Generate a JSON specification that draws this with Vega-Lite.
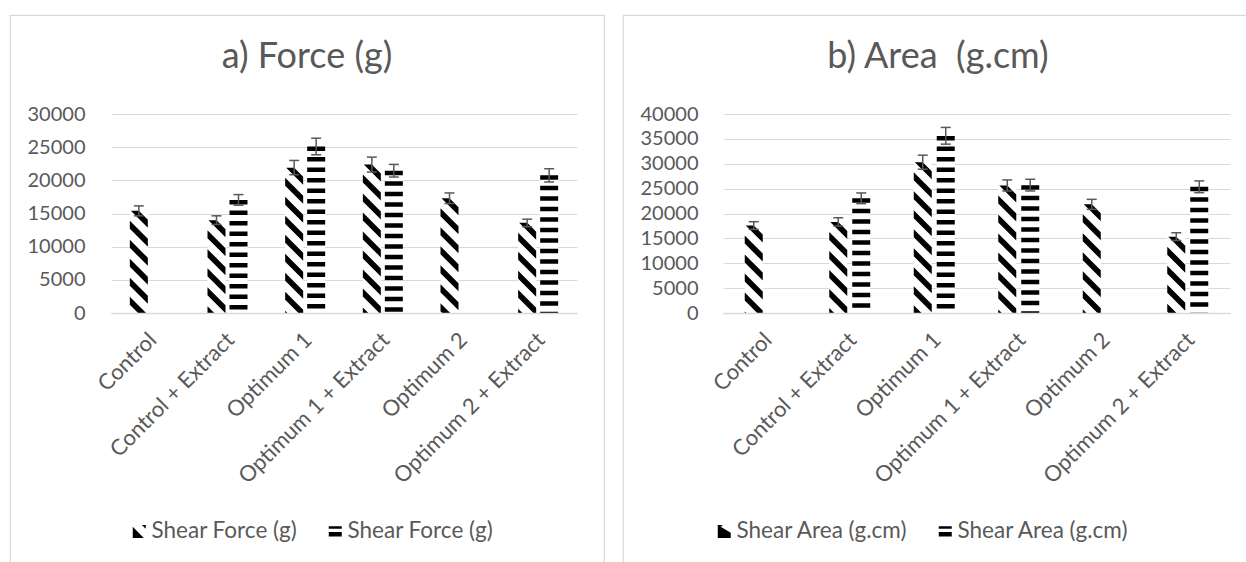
{
  "$schema": "https://vega.github.io/schema/vega-lite/v6.json",
  "padding": {"left": 9, "top": 14, "right": 0, "bottom": 0},
  "spacing": 17,
  "resolve": {"scale": {"shape": "independent", "x": "independent", "y": "independent", "xOffset": "independent"}, "legend": {"shape": "independent"}},
  "datasets": {
    "force": [
      {"cat": "Control", "s": "s1", "v": 15400, "lo": 14650, "hi": 16150},
      {"cat": "Control + Extract", "s": "s1", "v": 14000, "lo": 13350, "hi": 14650},
      {"cat": "Control + Extract", "s": "s2", "v": 17050, "lo": 16250, "hi": 17850},
      {"cat": "Optimum 1", "s": "s1", "v": 21900, "lo": 20850, "hi": 23000},
      {"cat": "Optimum 1", "s": "s2", "v": 25100, "lo": 23850, "hi": 26350},
      {"cat": "Optimum 1 + Extract", "s": "s1", "v": 22400, "lo": 21250, "hi": 23500},
      {"cat": "Optimum 1 + Extract", "s": "s2", "v": 21450, "lo": 20500, "hi": 22400},
      {"cat": "Optimum 2", "s": "s1", "v": 17300, "lo": 16500, "hi": 18100},
      {"cat": "Optimum 2 + Extract", "s": "s1", "v": 13600, "lo": 13000, "hi": 14150},
      {"cat": "Optimum 2 + Extract", "s": "s2", "v": 20750, "lo": 19750, "hi": 21750}
    ],
    "area": [
      {"cat": "Control", "s": "s1", "v": 17570, "lo": 16800, "hi": 18350},
      {"cat": "Control + Extract", "s": "s1", "v": 18300, "lo": 17470, "hi": 19150},
      {"cat": "Control + Extract", "s": "s2", "v": 23050, "lo": 21980, "hi": 24130},
      {"cat": "Optimum 1", "s": "s1", "v": 30300, "lo": 28900, "hi": 31720},
      {"cat": "Optimum 1", "s": "s2", "v": 35600, "lo": 33940, "hi": 37300},
      {"cat": "Optimum 1 + Extract", "s": "s1", "v": 25640, "lo": 24530, "hi": 26750},
      {"cat": "Optimum 1 + Extract", "s": "s2", "v": 25700, "lo": 24530, "hi": 26880},
      {"cat": "Optimum 2", "s": "s1", "v": 21840, "lo": 20830, "hi": 22850},
      {"cat": "Optimum 2 + Extract", "s": "s1", "v": 15350, "lo": 14580, "hi": 16130},
      {"cat": "Optimum 2 + Extract", "s": "s2", "v": 25370, "lo": 24190, "hi": 26550}
    ]
  },
  "hconcat": [
    {
      "width": 594,
      "height": 560,
      "data": {"name": "force"},
      "title": {"text": "a) Force (g)", "offset": -61, "frame": "group", "anchor": "middle", "fontSize": 36, "font": "Lato", "fontWeight": "normal", "color": "#595959"},
      "encoding": {
        "x": {
          "field": "cat", "type": "nominal", "title": null,
          "scale": {"domain": ["Control", "Control + Extract", "Optimum 1", "Optimum 1 + Extract", "Optimum 2", "Optimum 2 + Extract"], "range": [101, 567], "paddingInner": 0.485, "paddingOuter": 0.2425},
          "axis": {"orient": "bottom", "offset": -262, "labelAngle": -45, "labelAlign": "right", "labelBaseline": "top", "labelPadding": 16, "labelOffset": -4, "ticks": false, "domain": true, "domainColor": "#d9d9d9", "domainWidth": 1.3, "grid": false, "labelFont": "Lato", "labelFontSize": 22, "labelColor": "#595959", "labelOverlap": false, "labelLimit": 400, "zindex": 1}
        },
        "xOffset": {"field": "s", "type": "nominal", "scale": {"domain": ["s1", "s2"], "paddingInner": 0.1818, "paddingOuter": 0}}
      },
      "layer": [
        {
          "mark": {"type": "bar", "fill": "white", "width": 18},
          "encoding": {
            "y": {"field": "v", "type": "quantitative", "title": null,
              "scale": {"domain": [0, 30000], "range": [298, 99], "nice": false, "zero": false},
              "axis": {"values": [0, 5000, 10000, 15000, 20000, 25000, 30000], "format": "d", "offset": -101, "grid": true, "gridColor": "#d9d9d9", "gridWidth": 1.2, "domain": false, "ticks": false, "tickSize": 0, "labelPadding": 26, "labelFont": "Lato", "labelFontSize": 20, "labelColor": "#595959", "labelOverlap": false, "zindex": 0}}
          }
        },
        {
          "transform": [{"filter": "datum.s === 's1'"}],
          "mark": {"type": "point", "shape": "M-8,0L0,0L9,9L9,17ZM-9,10L9,28L9,36L-9,18ZM-9,29L9,47L9,55L-9,37ZM-9,48L9,66L9,74L-9,56ZM-9,67L9,85L9,93L-9,75ZM-9,86L9,104L9,112L-9,94ZM-9,105L9,123L9,131L-9,113ZM-9,124L9,142L9,150L-9,132ZM-9,143L9,161L9,169L-9,151ZM-9,162L9,180L9,188L-9,170Z", "size": 4, "filled": true, "fill": "black", "opacity": 1, "strokeWidth": 0},
          "encoding": {"y": {"field": "v", "type": "quantitative", "title": null}}
        },
        {
          "transform": [{"filter": "datum.s === 's1'"}],
          "mark": {"type": "bar", "fill": "white", "width": 20},
          "encoding": {"y": {"datum": -20000, "type": "quantitative", "title": null}}
        },
        {
          "transform": [{"filter": "datum.s === 's2'"}],
          "mark": {"type": "rule", "stroke": "black", "strokeWidth": 18, "strokeDash": [4.5, 6], "strokeCap": "butt"},
          "encoding": {"y": {"field": "v", "type": "quantitative", "title": null}, "y2": {"datum": 0}}
        },
        {
          "mark": {"type": "rule", "stroke": "#595959", "strokeWidth": 1.5},
          "encoding": {"y": {"field": "lo", "type": "quantitative", "title": null}, "y2": {"field": "hi"}}
        },
        {
          "mark": {"type": "tick", "color": "#595959", "thickness": 1.5, "size": 10, "opacity": 1},
          "encoding": {"y": {"field": "lo", "type": "quantitative", "title": null}}
        },
        {
          "mark": {"type": "tick", "color": "#595959", "thickness": 1.5, "size": 10, "opacity": 1},
          "encoding": {"y": {"field": "hi", "type": "quantitative", "title": null}}
        },
        {
          "mark": {"type": "point", "filled": true, "color": "black", "opacity": 0},
          "encoding": {
            "y": {"field": "v", "type": "quantitative", "title": null},
            "shape": {"field": "s", "type": "nominal",
              "scale": {"domain": ["s1", "s2"], "range": ["M-1,-0.7L0.7,1L-1,1ZM0.4,-1L1,-1L1,-0.4Z", "M-1,-0.8H1V-0.4H-1ZM-1,0.1H1V0.8H-1Z"]},
              "legend": {"orient": "none", "legendX": 118, "legendY": 505, "direction": "horizontal", "title": null, "padding": 0, "symbolSize": 169, "symbolFillColor": "black", "symbolStrokeWidth": 0, "symbolOpacity": 1, "labelFont": "Lato", "labelFontSize": 22.5, "labelColor": "#595959", "labelOffset": 1, "labelLimit": 400, "columnPadding": 26, "labelExpr": "'Shear Force (g)'"}}
          }
        }
      ]
    },
    {
      "width": 630,
      "height": 560,
      "data": {"name": "area"},
      "title": {"text": "b) Area \u00a0(g.cm)", "offset": -61, "frame": "group", "anchor": "middle", "fontSize": 36, "font": "Lato", "fontWeight": "normal", "color": "#595959"},
      "encoding": {
        "x": {
          "field": "cat", "type": "nominal", "title": null,
          "scale": {"domain": ["Control", "Control + Extract", "Optimum 1", "Optimum 1 + Extract", "Optimum 2", "Optimum 2 + Extract"], "range": [100, 607], "paddingInner": 0.515, "paddingOuter": 0.2574},
          "axis": {"orient": "bottom", "offset": -262, "labelAngle": -45, "labelAlign": "right", "labelBaseline": "top", "labelPadding": 16, "labelOffset": -4, "ticks": false, "domain": true, "domainColor": "#d9d9d9", "domainWidth": 1.3, "grid": false, "labelFont": "Lato", "labelFontSize": 22, "labelColor": "#595959", "labelOverlap": false, "labelLimit": 400, "zindex": 1}
        },
        "xOffset": {"field": "s", "type": "nominal", "scale": {"domain": ["s1", "s2"], "paddingInner": 0.2174, "paddingOuter": 0}}
      },
      "layer": [
        {
          "mark": {"type": "bar", "fill": "white", "width": 18},
          "encoding": {
            "y": {"field": "v", "type": "quantitative", "title": null,
              "scale": {"domain": [0, 40000], "range": [298, 99], "nice": false, "zero": false},
              "axis": {"values": [0, 5000, 10000, 15000, 20000, 25000, 30000, 35000, 40000], "format": "d", "offset": -100, "grid": true, "gridColor": "#d9d9d9", "gridWidth": 1.2, "domain": false, "ticks": false, "tickSize": 0, "labelPadding": 25, "labelFont": "Lato", "labelFontSize": 20, "labelColor": "#595959", "labelOverlap": false, "zindex": 0}}
          }
        },
        {
          "transform": [{"filter": "datum.s === 's1'"}],
          "mark": {"type": "point", "shape": "M-8,0L0,0L9,9L9,17ZM-9,10L9,28L9,36L-9,18ZM-9,29L9,47L9,55L-9,37ZM-9,48L9,66L9,74L-9,56ZM-9,67L9,85L9,93L-9,75ZM-9,86L9,104L9,112L-9,94ZM-9,105L9,123L9,131L-9,113ZM-9,124L9,142L9,150L-9,132ZM-9,143L9,161L9,169L-9,151ZM-9,162L9,180L9,188L-9,170Z", "size": 4, "filled": true, "fill": "black", "opacity": 1, "strokeWidth": 0},
          "encoding": {"y": {"field": "v", "type": "quantitative", "title": null}}
        },
        {
          "transform": [{"filter": "datum.s === 's1'"}],
          "mark": {"type": "bar", "fill": "white", "width": 20},
          "encoding": {"y": {"datum": -30000, "type": "quantitative", "title": null}}
        },
        {
          "transform": [{"filter": "datum.s === 's2'"}],
          "mark": {"type": "rule", "stroke": "black", "strokeWidth": 18, "strokeDash": [4.5, 6], "strokeCap": "butt"},
          "encoding": {"y": {"field": "v", "type": "quantitative", "title": null}, "y2": {"datum": 0}}
        },
        {
          "mark": {"type": "rule", "stroke": "#595959", "strokeWidth": 1.5},
          "encoding": {"y": {"field": "lo", "type": "quantitative", "title": null}, "y2": {"field": "hi"}}
        },
        {
          "mark": {"type": "tick", "color": "#595959", "thickness": 1.5, "size": 10, "opacity": 1},
          "encoding": {"y": {"field": "lo", "type": "quantitative", "title": null}}
        },
        {
          "mark": {"type": "tick", "color": "#595959", "thickness": 1.5, "size": 10, "opacity": 1},
          "encoding": {"y": {"field": "hi", "type": "quantitative", "title": null}}
        },
        {
          "mark": {"type": "point", "filled": true, "color": "black", "opacity": 0},
          "encoding": {
            "y": {"field": "v", "type": "quantitative", "title": null},
            "shape": {"field": "s", "type": "nominal",
              "scale": {"domain": ["s1", "s2"], "range": ["M-1,-1L1,0.2L1,1L-1,1ZM-1,-1L-0.2,-1L-1,-0.3Z", "M-1,-0.8H1V-0.4H-1ZM-1,0.1H1V0.8H-1Z"]},
              "legend": {"orient": "none", "legendX": 90, "legendY": 505, "direction": "horizontal", "title": null, "padding": 0, "symbolSize": 169, "symbolFillColor": "black", "symbolStrokeWidth": 0, "symbolOpacity": 1, "labelFont": "Lato", "labelFontSize": 22.5, "labelColor": "#595959", "labelOffset": 1, "labelLimit": 400, "columnPadding": 26, "labelExpr": "'Shear Area (g.cm)'"}}
          }
        }
      ]
    }
  ],
  "config": {
    "view": {"stroke": "#d9d9d9", "strokeWidth": 1.2},
    "font": "Lato"
  }
}
